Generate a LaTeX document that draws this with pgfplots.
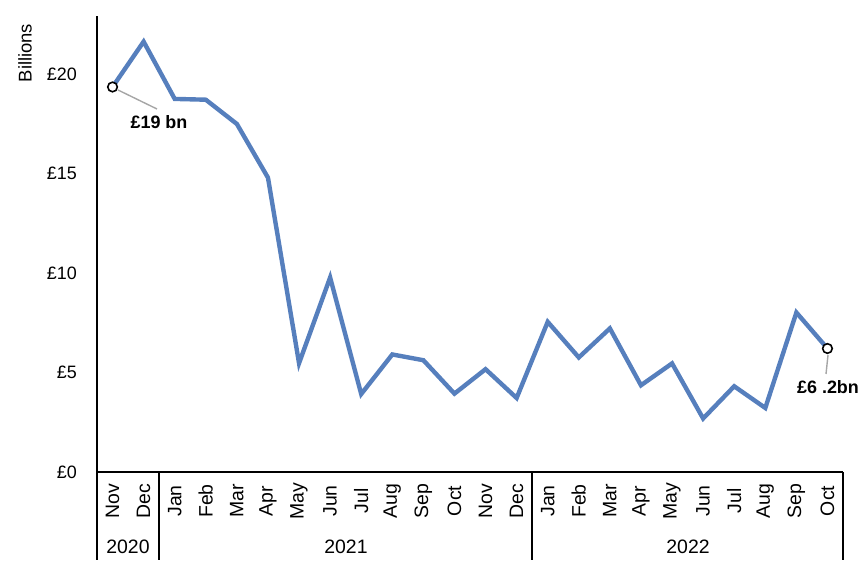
\documentclass[border=0pt]{standalone}
\usepackage{pgfplots}
\pgfplotsset{compat=1.18}
\usepackage{fontspec}
\setmainfont{Liberation Sans}
\definecolor{lineblue}{RGB}{86,127,189}
\begin{document}
\begin{tikzpicture}[x=1bp,y=1bp]
\useasboundingbox (0,0) rectangle (866,564);
\begin{axis}[
  at={(97bp,92bp)}, anchor=south west,
  scale only axis, width=746bp, height=456bp,
  xmin=-0.5, xmax=23.5, ymin=0, ymax=22.93,
  axis x line*=bottom, axis y line*=left,
  axis line style={line width=1.6bp, black},
  major tick length=0pt,
  ytick={0,5,10,15,20},
  yticklabels={£0,£5,£10,£15,£20},
  yticklabel style={font=\fontsize{18}{21}\selectfont, anchor=east, inner sep=0pt, xshift=-20bp},
  xtick={0,...,23},
  xticklabels={Nov,Dec,Jan,Feb,Mar,Apr,May,Jun,Jul,Aug,Sep,Oct,Nov,Dec,Jan,Feb,Mar,Apr,May,Jun,Jul,Aug,Sep,Oct},
  xticklabel style={font=\fontsize{19.5}{22}\selectfont, anchor=center, inner sep=0pt, yshift=-29bp, rotate=90},
  clip=false,
]
\addplot[color=lineblue, line width=4.4bp, line join=miter] coordinates {
(0,19.36) (1,21.64) (2,18.76) (3,18.72) (4,17.50) (5,14.80)
(6,5.47) (7,9.78) (8,3.92) (9,5.91) (10,5.62) (11,3.94)
(12,5.17) (13,3.72) (14,7.55) (15,5.76) (16,7.22) (17,4.36)
(18,5.46) (19,2.69) (20,4.31) (21,3.22) (22,8.02) (23,6.21)
};
\addplot[only marks, mark=*, mark size=4.8bp, draw=black, fill=white, line width=1.6bp] coordinates {(0,19.36) (23,6.21)};
\end{axis}
% category axis frame below the plot
\draw[line width=1.6bp] (97,92) -- (97,4);
\draw[line width=1.6bp] (159.2,92) -- (159.2,4);
\draw[line width=1.6bp] (532.2,92) -- (532.2,4);
\draw[line width=1.6bp] (843,92) -- (843,4);
\node[font=\fontsize{19.5}{22}\selectfont] at (128,17) {2020};
\node[font=\fontsize{19.5}{22}\selectfont] at (346,17) {2021};
\node[font=\fontsize{19.5}{22}\selectfont] at (688,17) {2022};
% y axis title
\node[rotate=90, font=\fontsize{18.5}{21}\selectfont] at (25,511) {Billions};
% annotations
\draw[gray!70, line width=1.4bp] (118,474) -- (157,455);
\node[font=\fontsize{18}{21}\selectfont\bfseries] at (159,442) {£19 bn};
\draw[gray!70, line width=1.4bp] (828,209) -- (826,190);
\node[font=\fontsize{18}{21}\selectfont\bfseries] at (828,177) {£6 .2bn};
\end{tikzpicture}
\end{document}
